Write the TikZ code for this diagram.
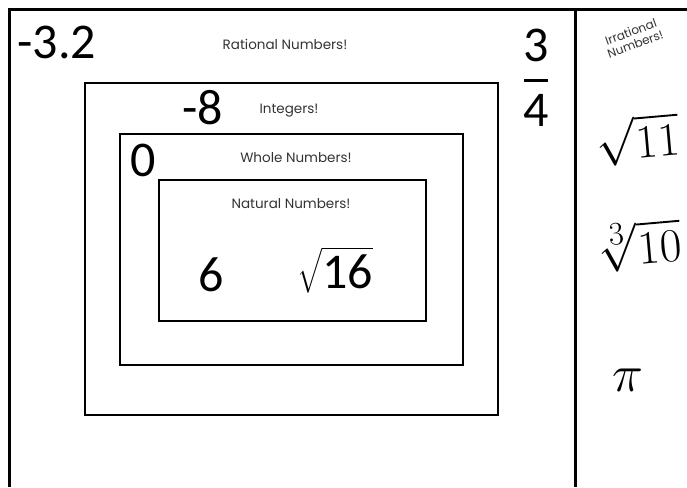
\documentclass[tikz,border=0pt]{standalone}
\usepackage{amsmath}
\usepackage{fontspec}
\newfontfamily\numfont{Carlito}
\newfontfamily\labelfont{Poppins}
\usepackage{tikz}
\usetikzlibrary{positioning}

\begin{document}
\begin{tikzpicture}[x=1pt,y=-1pt,
  frame/.style={line width=3pt},
  setbox/.style={draw,line width=2.4pt},
  bignum/.style={font=\numfont\fontsize{50}{50}\selectfont,inner sep=0pt},
  setname/.style={font=\labelfont\fontsize{13.5}{15}\selectfont,text=black!80,inner sep=0pt},
  irr/.style={font=\Huge,inner sep=0pt,rotate=5}]
  \useasboundingbox (0,0) rectangle (687,487);
  % outer frame and divider
  \draw[frame] (9,487) -- (9,10) -- (687,10);
  \draw[frame] (575,10) -- (575,487);
  % nested sets
  \draw[setbox] (85,83) rectangle (498,415);
  \draw[setbox] (120,134) rectangle (463,365);
  \draw[setbox] (159,180) rectangle (426,321);
  % rationals
  \node[bignum] (negthree) at (57,42) {-3.2};
  \node[setname] (rational) at (285,44) {Rational Numbers!};
  \node[bignum] (three) at (536,45) {3};
  \node[inner sep=0pt] (bar) at (536,80) {\rule{24pt}{3pt}};
  \node[bignum] (four) at (536,110) {4};
  % integers
  \node[bignum] (negeight) at (203,108) {-8};
  \node[setname] (integer) at (289,111) {Integers!};
  % whole numbers
  \node[bignum] (zero) at (143,160) {0};
  \node[setname] (whole) at (296,158) {Whole Numbers!};
  % natural numbers
  \node[setname] (natural) at (291,204) {Natural Numbers!};
  \node[bignum] (six) at (211,275) {6};
  \node[bignum] (rootsixteen) at (335,270) {$\sqrt{\text{16}}$};
  % irrationals
  \node[setname,rotate=20,align=center,font=\labelfont\fontsize{12}{13}\selectfont] (irrational) at (633,38) {Irrational\\Numbers!};
  \node[irr] (rooteleven) at (638,140) {\scalebox{1.9}{$\sqrt{11}$}};
  \node[irr] (cuberoot) at (639,246) {\scalebox{1.9}{$\sqrt[3]{10}$}};
  \node[irr,rotate=-5] (pi) at (628,380) {\scalebox{2.1}{$\pi$}};
\end{tikzpicture}
\end{document}
